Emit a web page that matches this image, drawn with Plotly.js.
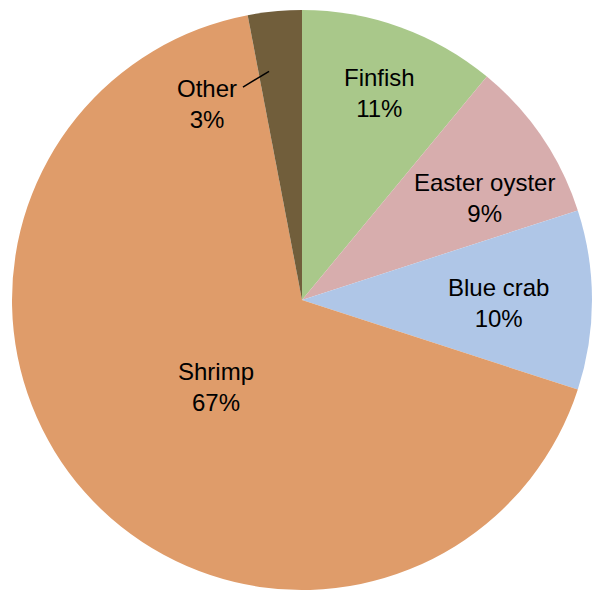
<!DOCTYPE html>
<html>
<head>
<meta charset="utf-8">
<script src="https://cdn.plot.ly/plotly-3.0.1.min.js"></script>
<style>html,body{margin:0;padding:0;background:#fff;}#chart{width:592px;height:590px;}</style>
</head>
<body>
<div id="chart"></div>
<script>
// Data
const categories = ["Finfish", "Easter oyster", "Blue crab", "Shrimp", "Other"];
const values = [11, 9, 10, 67, 3];
const colors = ["#A9C88A", "#D7ADAD", "#AFC6E7", "#DF9C6A", "#715E3B"];

// Label placement style (relative radius and angle shift in degrees)
const labelStyle = {
  radius: [0.77, 0.725, 0.676, 0.414, 0.76],
  shift: [0.4, 4.2, 0, -2.9, -20.1]
};

const W = 592, H = 590;
const cx = 302, cy = 300, R = 290;
const domX = [(cx - R) / W, (cx + R) / W];
const domY = [1 - (cy + R) / H, 1 - (cy - R) / H];

const total = values.reduce((a, b) => a + b, 0);
const annotations = [];
let cum = 0;
const toPaper = (r, deg) => {
  const t = deg * Math.PI / 180;
  const px = cx + r * Math.sin(t), py = cy - r * Math.cos(t);
  return [px / W, 1 - py / H];
};
values.forEach((v, i) => {
  const mid = (cum + v / 2) / total * 360;
  cum += v;
  const p = toPaper(labelStyle.radius[i] * R, mid + labelStyle.shift[i]);
  annotations.push({
    x: p[0], y: p[1], xref: "paper", yref: "paper",
    text: categories[i] + "<br>" + Math.round(v / total * 100) + "%",
    showarrow: false, xanchor: "center", yanchor: "middle", yshift: -3,
    font: {family: "Liberation Sans, Arial, sans-serif", size: 24, color: "#000"}
  });
});

// leader line for "Other"
const l0 = toPaper(221, -15.5), l1 = toPaper(231, -8.2);

const trace = {
  type: "pie",
  labels: categories,
  values: values,
  sort: false,
  direction: "clockwise",
  rotation: 0,
  textinfo: "none",
  hoverinfo: "label+percent",
  marker: {colors: colors, line: {width: 0}},
  domain: {x: domX, y: domY},
  showlegend: false
};

const layout = {
  width: W, height: H,
  margin: {l: 0, r: 0, t: 0, b: 0},
  paper_bgcolor: "#fff",
  showlegend: false,
  annotations: annotations,
  shapes: [{type: "line", xref: "paper", yref: "paper",
    x0: l0[0], y0: l0[1], x1: l1[0], y1: l1[1],
    line: {color: "#000", width: 1.5}}]
};

Plotly.newPlot("chart", [trace], layout, {displayModeBar: false, staticPlot: true});
</script>
</body>
</html>
